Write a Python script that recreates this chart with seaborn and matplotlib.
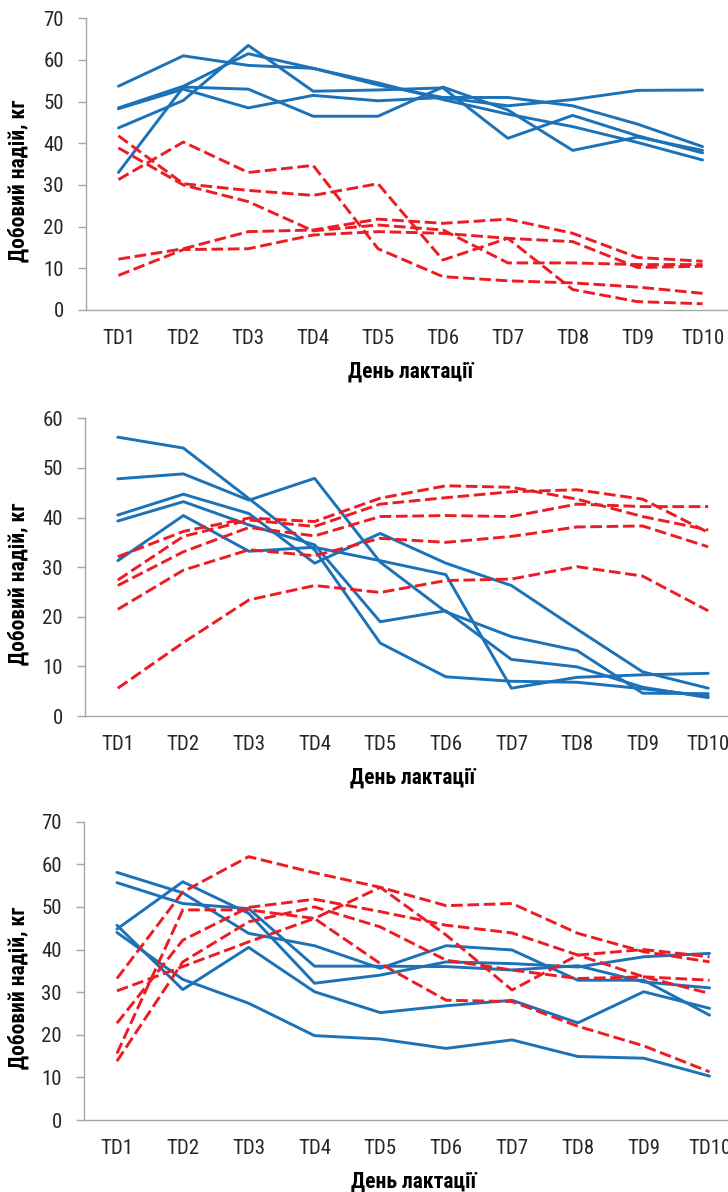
import matplotlib
matplotlib.use('Agg')
import matplotlib.pyplot as plt
import pandas as pd
import seaborn as sns
from matplotlib import font_manager

days = ['TD1', 'TD2', 'TD3', 'TD4', 'TD5', 'TD6', 'TD7', 'TD8', 'TD9', 'TD10']

# panel 1
p1_blue = [
    [53.7, 61.0, 58.7, 58.0, 54.5, 50.5, 47.0, 44.0, 40.2, 36.0],
    [48.5, 53.7, 61.5, 58.0, 54.0, 51.0, 51.0, 49.0, 44.6, 39.2],
    [43.7, 50.3, 63.5, 52.5, 52.8, 53.3, 41.2, 46.7, 41.8, 37.7],
    [33.0, 53.5, 53.0, 46.5, 46.5, 53.5, 48.0, 38.3, 41.5, 38.3],
    [48.3, 53.0, 48.5, 51.5, 50.2, 51.0, 49.0, 50.5, 52.7, 52.8],
]
p1_red = [
    [31.3, 40.3, 33.0, 34.7, 14.7, 8.0, 7.0, 6.5, 5.5, 4.0],
    [41.8, 30.3, 28.7, 27.5, 30.3, 12.0, 17.2, 4.9, 2.0, 1.5],
    [38.9, 30.0, 26.0, 19.0, 20.4, 19.2, 11.3, 11.3, 10.9, 10.9],
    [12.2, 14.7, 18.8, 19.2, 21.8, 20.8, 21.8, 18.4, 12.6, 11.7],
    [8.3, 14.5, 14.7, 18.0, 18.8, 18.4, 17.2, 16.4, 10.2, 10.5],
]

# panel 2
p2_blue = [
    [56.2, 54.0, 43.8, 33.5, 14.7, 7.9, 7.0, 6.8, 5.5, 4.0],
    [47.8, 48.8, 43.5, 47.9, 31.0, 21.0, 16.0, 13.2, 4.6, 4.5],
    [40.5, 44.7, 40.8, 30.8, 36.8, 30.8, 26.3, 17.5, 8.9, 5.6],
    [39.3, 43.2, 38.5, 34.5, 19.0, 21.2, 11.4, 9.9, 5.8, 3.7],
    [31.3, 40.4, 33.2, 34.0, 31.3, 28.5, 5.6, 7.8, 8.3, 8.6],
]
p2_red = [
    [32.1, 37.2, 39.9, 39.2, 43.9, 46.4, 46.1, 43.7, 40.2, 37.5],
    [27.4, 36.2, 39.5, 38.2, 42.7, 44.0, 45.2, 45.6, 43.7, 37.0],
    [26.3, 33.1, 38.0, 36.3, 40.2, 40.4, 40.2, 42.7, 42.2, 42.2],
    [21.5, 29.4, 33.5, 32.3, 35.8, 35.0, 36.2, 38.1, 38.3, 34.1],
    [5.6, 14.8, 23.4, 26.3, 24.9, 27.3, 27.6, 30.1, 28.2, 21.2],
]

# panel 3
p3_blue = [
    [44.0, 33.0, 27.4, 19.8, 19.0, 16.8, 18.8, 14.9, 14.5, 10.3],
    [45.7, 30.6, 40.5, 30.1, 25.2, 26.8, 28.1, 22.8, 30.1, 26.2],
    [44.8, 55.9, 48.5, 32.1, 34.0, 37.1, 36.7, 35.9, 38.3, 39.1],
    [58.1, 53.3, 43.8, 40.9, 35.6, 40.9, 39.9, 32.8, 32.8, 24.6],
    [55.7, 50.8, 49.6, 36.1, 36.1, 36.0, 35.2, 36.2, 32.4, 31.0],
]
p3_red = [
    [33.2, 53.5, 61.8, 58.0, 54.6, 50.3, 50.8, 43.8, 39.5, 37.1],
    [22.7, 42.2, 49.9, 51.8, 48.9, 45.7, 43.9, 38.7, 33.6, 29.7],
    [15.6, 49.3, 49.3, 47.3, 54.6, 43.4, 30.5, 38.7, 40.0, 38.3],
    [13.8, 37.1, 46.5, 50.0, 45.3, 37.5, 35.2, 33.2, 33.6, 32.8],
    [30.3, 36.0, 41.8, 47.3, 36.7, 28.1, 27.8, 22.0, 17.4, 11.3],
]

ylabel = 'Добовий надій, кг'
xlabel = 'День лактації'

BLUE = '#1B72B8'
RED = '#EC1C24'
GRAY = '#A6A6A6'

sns.set_style('white')

# narrow face if one is installed, else Liberation Sans
installed = {f.name for f in font_manager.fontManager.ttflist}
main_font = 'Liberation Sans'
for cand in ['Liberation Sans Narrow', 'DejaVu Sans Condensed', 'Roboto Condensed']:
    if cand in installed:
        main_font = cand
        break
plt.rcParams['font.family'] = [main_font, 'Liberation Sans', 'DejaVu Sans']
narrow = main_font != 'Liberation Sans'
tick_size = 15 if narrow else 14.5
label_size = 15.5 if narrow else 14

W, H = 728, 1192
fig = plt.figure(figsize=(W / 100, H / 100), dpi=100)

# (left, right, top, bottom) in pixels
boxes = [(86, 735, 18.3, 310), (85, 741, 418.3, 716), (84, 742.5, 821.7, 1120)]
panels = [(p1_blue, p1_red, 70), (p2_blue, p2_red, 60), (p3_blue, p3_red, 70)]

for (l, r, t, b), (blue, red, ymax) in zip(boxes, panels):
    ax = fig.add_axes([l / W, 1 - b / H, (r - l) / W, (b - t) / H])
    rows = []
    for i, s in enumerate(blue):
        for d, v in zip(days, s):
            rows.append((d, v, 'b%d' % i, 'blue'))
    for i, s in enumerate(red):
        for d, v in zip(days, s):
            rows.append((d, v, 'r%d' % i, 'red'))
    df = pd.DataFrame(rows, columns=['day', 'value', 'series', 'group'])
    sns.lineplot(data=df, x='day', y='value', hue='group', style='group',
                 units='series', estimator=None, sort=False,
                 palette={'blue': BLUE, 'red': RED},
                 dashes={'blue': '', 'red': (4, 1.6)},
                 linewidth=2.1, legend=False, ax=ax)

    ax.set_xlim(-0.5, 9.5)
    ax.set_ylim(0, ymax)
    ax.set_yticks(range(0, ymax + 1, 10))
    ax.set_xticks([i - 0.5 for i in range(11)], minor=True)
    ax.tick_params(axis='x', which='major', length=0, pad=14, labelsize=tick_size, labelcolor='#262626')
    ax.tick_params(axis='x', which='minor', length=6, width=1, color=GRAY)
    ax.tick_params(axis='y', length=6, width=1, color=GRAY, pad=10, labelsize=tick_size,
                   labelcolor='#262626', left=True)
    for side in ['top', 'right']:
        ax.spines[side].set_visible(False)
    for side in ['left', 'bottom']:
        ax.spines[side].set_color(GRAY)
        ax.spines[side].set_linewidth(1)

    hpx = b - t
    ax.set_ylabel(ylabel, fontsize=label_size, fontweight='bold', color='black')
    ax.yaxis.set_label_coords((30 - l) / (r - l), 0.5 - 17 / hpx)
    ax.set_xlabel(xlabel, fontsize=label_size, fontweight='bold', color='black')
    ax.xaxis.set_label_coords(0.5, -51 / hpx)

fig.savefig('out.png', dpi=100)
